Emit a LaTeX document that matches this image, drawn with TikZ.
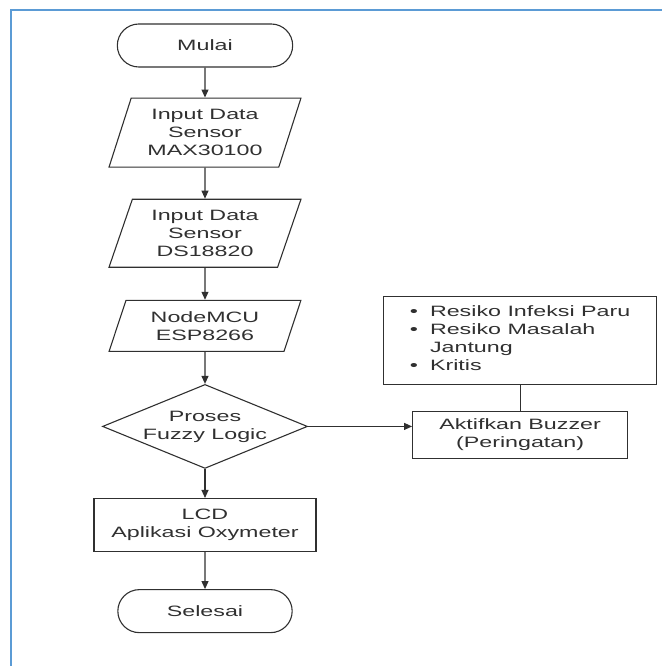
\documentclass[tikz,border=0pt]{standalone}
\usepackage{fontspec}
\setmainfont{Liberation Sans}[FakeStretch=1.55]
\usetikzlibrary{positioning,shapes.geometric,shapes.misc,arrows.meta}
\definecolor{ink}{HTML}{303030}
\definecolor{frameblue}{HTML}{5B9BD5}
\begin{document}
\begin{tikzpicture}[
    >={Triangle[length=8pt,width=7pt]},
    every node/.style={font=\fontsize{15}{18}\selectfont,text=ink,align=center},
    term/.style={draw=ink,line width=1.1pt,rounded rectangle,minimum width=182pt,minimum height=43pt},
    io/.style={draw=ink,line width=1.1pt,trapezium,trapezium left angle=72,trapezium right angle=108,trapezium stretches=true,minimum width=192pt,inner xsep=0pt},
    proc/.style={draw=ink,line width=1.1pt,rectangle},
    dec/.style={draw=ink,line width=1.1pt,diamond,aspect=2.44,inner sep=0pt,minimum width=205pt,minimum height=84pt},
    link/.style={draw=ink,line width=1.1pt}]
    \useasboundingbox (0,0) rectangle (662pt,666pt);
    \draw[frameblue,line width=2pt] (11pt,0) -- (11pt,656pt) -- (662pt,656pt);
    \node[term](start) at (205pt,620.5pt){Mulai};
    \node[io,minimum height=69pt](in1)[below=30pt of start]{Input Data\\Sensor\\MAX30100};
    \node[io,minimum height=68pt](in2)[below=31pt of in1]{Input Data\\Sensor\\DS18820};
    \node[io,minimum height=51pt](mcu)[below=32pt of in2]{NodeMCU\\ESP8266};
    \node[dec](fuzzy)[below=32pt of mcu]{Proses\\Fuzzy Logic};
    \node[proc,minimum width=222pt,minimum height=53pt](lcd)[below=29pt of fuzzy]{LCD\\Aplikasi Oxymeter};
    \node[term,minimum width=181pt](stop)[below=37pt of lcd]{Selesai};
    \node[proc,minimum width=215pt,minimum height=47pt](buzzer)[right=104pt of fuzzy,yshift=-8.5pt]{Aktifkan Buzzer\\(Peringatan)};
    \node[proc,minimum width=273pt,minimum height=88pt](risk)[above=26pt of buzzer]{%
        \begin{tabular}{@{}l@{\hspace{12pt}}l@{}}
        \textbullet & Resiko Infeksi Paru\\
        \textbullet & Resiko Masalah\\
                    & Jantung\\
        \textbullet & Kritis
        \end{tabular}};
    \draw[link,->](start) -- (in1);
    \draw[link,->](in1) -- (in2);
    \draw[link,->](in2) -- (mcu);
    \draw[link,->](mcu) -- (fuzzy);
    \draw[link,->](fuzzy) -- (lcd);
    \draw[link,->](lcd) -- (stop);
    \draw[link,->](fuzzy.east) -- (fuzzy.east -| buzzer.west);
    \draw[link](risk) -- (buzzer);
\end{tikzpicture}
\end{document}
